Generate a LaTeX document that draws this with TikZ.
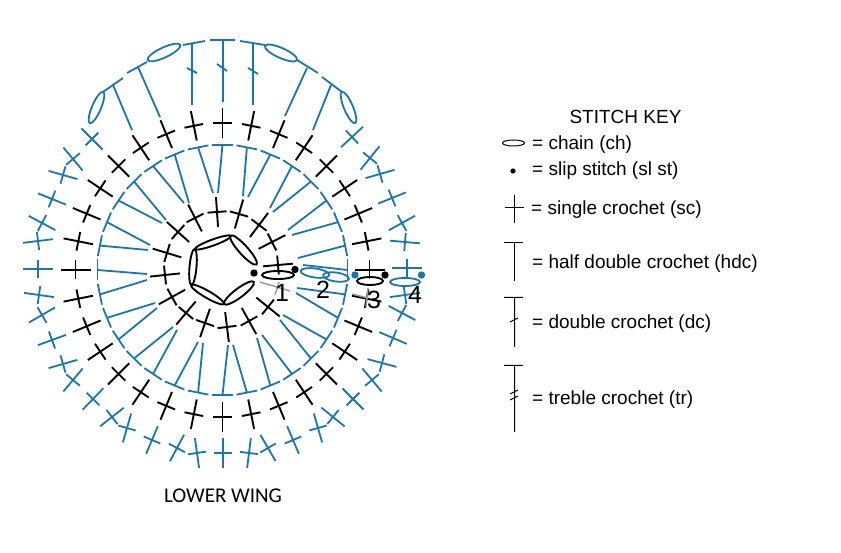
\documentclass[tikz,border=0pt]{standalone}
\usepackage{fontspec}
\setmainfont{Liberation Sans}
\newfontfamily\captionfont{Carlito}
\definecolor{wingblue}{HTML}{1B75AE}
\begin{document}
\begin{tikzpicture}[
    x=1pt, y=-1pt,
    every node/.style={font=\fontsize{19}{21}\selectfont, inner sep=0pt},
    bk/.style={line width=1.9pt, black},
    bl/.style={line width=1.8pt, wingblue},
    kl/.style={line width=1pt, black},
    ld/.style={line width=1.4pt, black!40},
    num/.style={font=\fontsize{25}{27}\selectfont},
    kt/.style={anchor=west}
]
\useasboundingbox (0,0) rectangle (841,553);
\foreach \k/\x/\y in {0/303/265, 1/298/258, 2/292/235, 3/288/230, 4/273/212, 5/270/208, 6/248/197, 7/243/196,
    8/218/193, 9/213/193, 10/189/203, 11/184/203, 12/166/220, 13/162/223, 14/150/245, 15/148/250,
    16/147/274, 17/147/280, 18/155/303, 19/157/308, 20/173/327, 21/177/330, 22/198/342, 23/203/343,
    24/228/345, 25/233/345, 26/257/338, 27/262/335, 28/280/320, 29/283/315, 30/296/293, 31/297/288}
{
    \pgfmathsetmacro\a{\k*11.25}
    \draw[bl] ({222.5+125*cos(\a)},{270-125*sin(\a)}) -- (\x,\y);
    \draw[bl,shift={(222.5,270)},rotate=\a,xshift=125pt] (0,-10.5) -- (0,10.5);
}
\foreach \k in {0,...,31}
    \draw[bk,shift={(222.5,270)},rotate=\k*11.25,xshift=147pt] (-15,0) -- (15,0) (0,-9.5) -- (0,9.5);
\foreach \x/\y/\r in {217/212/94, 195/218/-63, 178/232/-42, 167/253/-17, 165/275/6, 172/297/29, 186/313/50, 205/323/71,
    227/327/97, 249/321/-61, 268/307/-39, 278/265/5, 272/242/27, 259/225/53, 239/214/74}
    \draw[bk,shift={(\x,\y)},rotate=\r] (-15,0) -- (15,0) (0,-9.5) -- (0,9.5);
\foreach \x/\y/\r in {407/268/0, 405/242/-5, 402/223/29, 392/198/22, 380/174/16, 370/158/51, 352/137/43,
    405/295/8, 402/313/-28, 393/338/-23, 382/363/-15, 372/380/-50, 353/399/-45, 333/417/-39, 318/428/-74,
    293/440/-67, 268/448/-60, 249/453/83, 223/453/90, 197/453/98, 177/448/62, 152/440/67, 127/428/74,
    112/417/38, 93/399/46, 73/380/50, 63/364/16, 52/340/20, 42/315/30, 39/295/-8, 38/269/0, 38/241/7,
    42/223/-28, 52/199/-22, 63/175/-16, 73/159/-50, 92/139/-45}
    \draw[bl,shift={(\x,\y)},rotate=\r] (-15,0) -- (15,0) (0,-9) -- (0,9);
\foreach \xa/\ya/\xb/\yb in {223/41/223/102, 192/44/192/105, 253/44/253/105, 138/67/160/117, 113/85/132/130,
    307/68/285/116, 331/85/313/130, 103/92/123/78, 127/73/147/62, 183/45/205/41, 210/40/235/40, 240/41/265/45,
    297/60/318/73, 322/77/342/92, 187/68/197/73, 217/64/227/71, 248/68/258/74}
    \draw[bl] (\xa,\ya) -- (\xb,\yb);
\foreach \x/\y/\w/\h/\r in {96.5/107.5/17/4.5/67, 164/52.5/18/5/25, 281/53/17.5/5/-24, 348.5/107.5/17/4.5/-67,
    315/273/14.5/4.5/-8, 336/277/13/4.5/-8, 405/282/15/4/0}
    \draw[bl,shift={(\x,\y)},rotate=\r] (0,0) ellipse ({\w} and {\h});
\foreach \x/\y/\w/\h/\r in {213/242.5/19/3/20, 243.5/250/19.5/4.5/-48, 239/293/18.5/4.5/37, 207.5/294.5/19/3.5/-30,
    193/267/18/3.5/85, 278/275/16/4/0, 370/281/13/4/0}
    \draw[bk,shift={(\x,\y)},rotate=\r] (0,0) ellipse ({\w} and {\h});
\fill[black] (254,273) circle (3.7) (295,269.5) circle (3.7) (385,275) circle (3.7);
\fill[wingblue] (355,275) circle (3.7) (421.5,275) circle (3.7);
\draw[ld] (260,282) -- (290,291) (279,282) -- (275,295) (352,294) -- (368,298) (368,288) -- (366,307);
\node[num] (n1) at (282,293) {1};
\node[num] (n2) at (323,290) {2};
\node[num] (n3) at (374,300) {3};
\node[num] (n4) at (415,295) {4};
\node[font=\captionfont\fontsize{21}{23}\selectfont] (wing) at (223,496) {LOWER WING};
\node (title) at (625.5,117) {STITCH KEY};
\draw[kl] (513.5,143) ellipse (11 and 3);
\fill[black] (513,171) circle (2.6);
\draw[kl] (514.5,195) -- (514.5,223) (505,207.5) -- (524,207.5);
\draw[kl] (504,242.5) -- (523,242.5) (514.5,242) -- (514.5,281);
\draw[kl] (504,297.5) -- (523,297.5) (514.5,297) -- (514.5,347) (510,322) -- (518,318);
\draw[kl] (504,365.5) -- (523,365.5) (514.5,365) -- (514.5,432) (510,394) -- (518,390) (510,400) -- (518,396);
\node[kt] (ch)  at (532,144.5) {= chain (ch)};
\node[kt] (sl)  at (532,171)   {= slip stitch (sl st)};
\node[kt] (sc)  at (531,210)   {= single crochet (sc)};
\node[kt] (hdc) at (532,263.5) {= half double crochet (hdc)};
\node[kt] (dc)  at (532,323.5) {= double crochet (dc)};
\node[kt] (tr)  at (532,399.5) {= treble crochet (tr)};
\end{tikzpicture}
\end{document}
